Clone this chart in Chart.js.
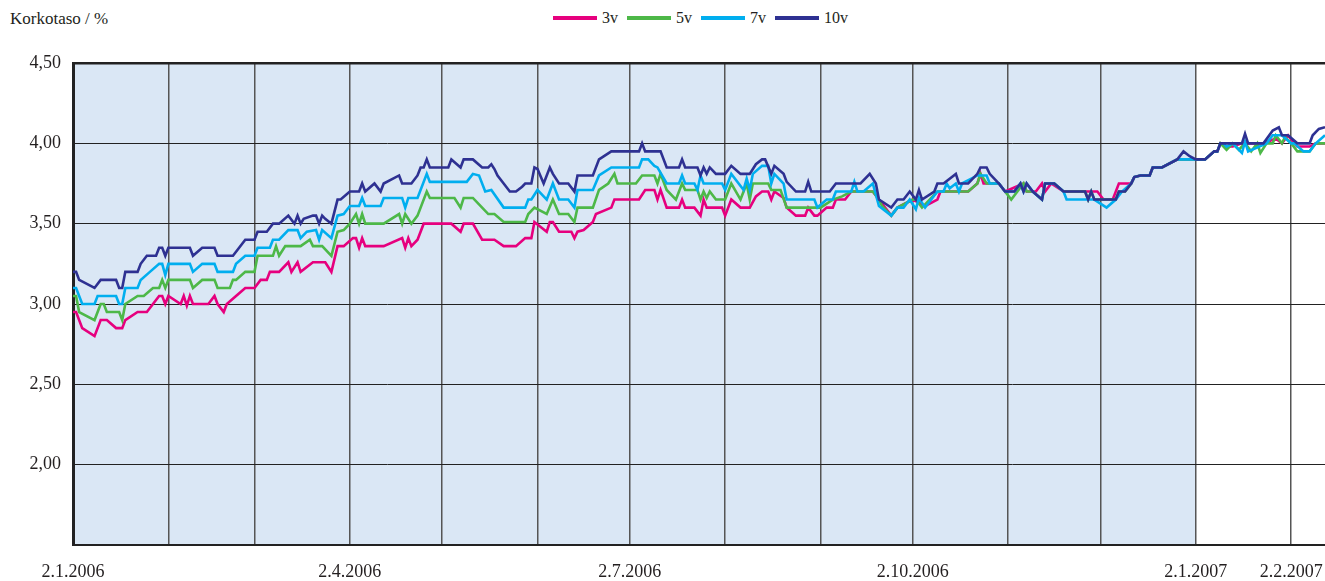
<!DOCTYPE html>
<html>
<head>
<meta charset="utf-8">
<script src="https://cdn.jsdelivr.net/npm/chart.js@4"></script>
<style>
  html, body { margin: 0; padding: 0; background: #fff; }
  #wrap { position: relative; width: 1325px; height: 581px; font-family: "Liberation Serif", Tinos, "Times New Roman", Times, "Noto Serif", "DejaVu Serif", serif; color: #231f20; }
  #title { position: absolute; left: 10px; top: 9px; font-size: 17px; line-height: 20px; }
  #legend { position: absolute; left: 553px; top: 8px; height: 20px; display: flex; align-items: center; font-size: 16px; }
  #legend .item { display: flex; align-items: center; margin-right: 9px; }
  #legend .swatch { display: inline-block; width: 44px; height: 4px; margin-right: 5px; }
  #box { position: absolute; left: 0; top: 40px; width: 1325px; height: 541px; }
</style>
</head>
<body>
<div id="wrap">
  <div id="title">Korkotaso / %</div>
  <div id="legend"></div>
  <div id="box"><canvas id="rates"></canvas></div>
</div>
<script>
// x values are days after 2.1.2006, y values are interest rates in %.
const START = '2.1.2006';

const gridDates = [
  '2.1.2006', '2.2.2006', '2.3.2006', '2.4.2006', '2.5.2006', '2.6.2006', '2.7.2006',
  '2.8.2006', '2.9.2006', '2.10.2006', '2.11.2006', '2.12.2006', '2.1.2007', '2.2.2007',
];
const labelDates = ['2.1.2006', '2.4.2006', '2.7.2006', '2.10.2006', '2.1.2007', '2.2.2007'];
const shadedUntil = '2.1.2007';
const lastDay = 407;

const seriesNames = ['3v', '5v', '7v', '10v'];
const seriesColors = ['#e6007e', '#4db848', '#00aeef', '#2e3192'];

const days3v = [0,1,3,7,9,11,14,16,17,21,24,26,28,29,30,31,35,36,37,38,39,44,46,47,49,50,53,56,59,61,63,64,67,70,71,73,74,78,82,84,86,88,91,92,93,94,95,101,107,108,109,110,112,114,123,126,127,130,133,137,140,144,147,149,150,154,155,156,158,162,163,164,166,169,170,175,176,184,186,189,190,191,193,197,198,199,202,204,205,206,211,212,214,217,220,222,224,226,227,228,231,232,235,238,239,241,242,245,247,248,251,253,260,262,266,268,273,277,281,282,291,294,295,296,301,303,309,310,313,315,316,318,322,329,333,335,338,340,344,345,347,350,351,354,359,365,368,371,372,373,375,377,380,387,391,393,395,397,398,402,404,407];
const rate3v = [2.95,2.95,2.85,2.80,2.90,2.90,2.85,2.85,2.90,2.95,2.95,3.00,3.05,3.05,3.00,3.05,3.00,3.05,2.99,3.05,3.00,3.00,3.05,3.00,2.95,3.00,3.05,3.10,3.10,3.15,3.15,3.20,3.20,3.26,3.20,3.26,3.20,3.26,3.26,3.20,3.36,3.36,3.41,3.41,3.35,3.41,3.36,3.36,3.41,3.35,3.41,3.36,3.40,3.50,3.50,3.45,3.50,3.50,3.40,3.40,3.36,3.36,3.41,3.41,3.51,3.45,3.51,3.51,3.45,3.45,3.41,3.45,3.46,3.51,3.56,3.60,3.65,3.65,3.71,3.71,3.65,3.71,3.60,3.60,3.65,3.60,3.60,3.55,3.65,3.60,3.60,3.55,3.65,3.60,3.60,3.67,3.70,3.70,3.65,3.70,3.66,3.60,3.55,3.55,3.60,3.55,3.55,3.60,3.60,3.65,3.65,3.70,3.70,3.65,3.55,3.60,3.65,3.61,3.65,3.70,3.70,3.75,3.81,3.75,3.75,3.70,3.75,3.70,3.70,3.75,3.70,3.75,3.70,3.70,3.70,3.65,3.65,3.75,3.75,3.79,3.80,3.80,3.85,3.85,3.90,3.90,3.90,3.95,3.95,4.00,3.98,3.98,4.00,4.00,4.03,4.00,4.05,4.00,3.98,3.98,4.00,4.00];

const days5v = [0,1,2,7,9,10,11,15,16,17,21,23,26,28,29,30,31,38,39,42,46,47,51,52,53,56,59,60,65,66,67,69,74,77,78,81,84,86,88,90,92,93,94,95,101,106,107,108,110,112,115,116,124,126,127,130,133,135,137,140,147,148,150,154,156,158,161,163,164,169,171,174,176,177,183,185,189,190,191,193,196,198,199,203,204,205,206,207,209,212,214,217,219,220,221,226,227,230,232,243,247,250,253,260,262,263,266,268,273,274,276,281,291,294,295,297,301,303,305,307,309,310,312,315,316,319,322,329,330,331,332,339,340,342,344,345,347,350,351,354,359,365,368,371,372,373,375,377,379,381,383,385,386,388,390,391,393,394,396,398,402,404,407];
const rate5v = [3.05,3.05,2.95,2.90,3.00,3.00,2.95,2.95,2.90,3.00,3.05,3.05,3.10,3.10,3.15,3.10,3.15,3.15,3.10,3.15,3.15,3.10,3.10,3.15,3.15,3.20,3.20,3.30,3.30,3.36,3.30,3.36,3.36,3.40,3.36,3.36,3.30,3.45,3.46,3.50,3.56,3.50,3.56,3.50,3.50,3.56,3.50,3.56,3.50,3.55,3.70,3.66,3.66,3.60,3.66,3.66,3.60,3.56,3.56,3.51,3.51,3.56,3.60,3.56,3.65,3.56,3.56,3.51,3.60,3.60,3.71,3.75,3.81,3.75,3.75,3.80,3.80,3.75,3.81,3.71,3.65,3.75,3.71,3.71,3.65,3.70,3.66,3.70,3.65,3.65,3.75,3.65,3.75,3.65,3.75,3.75,3.71,3.71,3.60,3.60,3.65,3.67,3.70,3.70,3.65,3.61,3.55,3.60,3.65,3.65,3.60,3.70,3.70,3.75,3.81,3.75,3.75,3.70,3.65,3.70,3.75,3.70,3.70,3.65,3.75,3.75,3.70,3.70,3.65,3.70,3.65,3.65,3.70,3.70,3.75,3.79,3.80,3.80,3.85,3.85,3.90,3.90,3.90,3.95,3.95,4.00,3.96,4.00,3.96,4.00,3.95,4.00,3.94,4.00,4.00,4.05,4.00,4.04,4.00,3.95,3.95,4.00,4.00];

const days7v = [0,1,3,7,8,14,15,16,17,21,22,25,28,29,30,31,38,39,42,46,47,52,53,56,59,60,64,65,67,70,73,74,76,79,80,81,84,86,88,90,93,94,95,100,101,107,108,109,112,115,116,128,130,132,134,136,140,147,148,149,151,154,156,158,161,163,164,169,171,175,184,185,187,189,190,193,197,198,199,202,203,204,205,211,212,214,218,219,220,221,224,226,227,228,231,232,241,242,245,247,248,253,254,255,257,260,262,266,268,270,272,274,275,277,281,283,284,285,287,288,289,294,297,298,301,303,306,308,309,310,312,315,316,319,322,323,329,332,336,339,341,344,345,347,350,351,354,359,365,368,371,372,373,374,375,377,380,381,382,388,390,393,396,397,400,402,404,407];
const rate7v = [3.10,3.10,3.00,3.00,3.05,3.05,3.00,3.00,3.10,3.10,3.15,3.20,3.25,3.25,3.18,3.25,3.25,3.20,3.25,3.25,3.20,3.20,3.25,3.30,3.30,3.35,3.35,3.40,3.40,3.46,3.46,3.41,3.45,3.46,3.40,3.46,3.41,3.55,3.56,3.61,3.61,3.66,3.61,3.61,3.66,3.66,3.60,3.66,3.66,3.81,3.76,3.76,3.81,3.80,3.70,3.71,3.60,3.60,3.65,3.65,3.71,3.65,3.75,3.65,3.65,3.60,3.71,3.71,3.80,3.85,3.85,3.90,3.90,3.86,3.85,3.75,3.75,3.80,3.75,3.75,3.71,3.80,3.75,3.75,3.71,3.81,3.71,3.78,3.71,3.81,3.86,3.86,3.75,3.81,3.75,3.65,3.65,3.60,3.65,3.65,3.70,3.70,3.76,3.70,3.70,3.75,3.61,3.55,3.60,3.60,3.65,3.59,3.66,3.60,3.70,3.70,3.75,3.72,3.75,3.70,3.75,3.80,3.80,3.75,3.75,3.70,3.70,3.75,3.70,3.75,3.70,3.65,3.75,3.75,3.70,3.65,3.65,3.65,3.60,3.65,3.70,3.75,3.79,3.80,3.80,3.85,3.85,3.90,3.90,3.90,3.95,3.95,4.00,4.00,3.98,4.00,3.94,4.01,3.95,4.00,4.05,4.05,4.00,4.00,3.95,3.95,4.00,4.05];

const days10v = [0,1,2,7,9,14,15,16,17,21,22,24,27,28,29,30,31,38,39,42,46,47,52,54,56,59,60,63,65,67,70,72,73,74,75,78,79,80,81,82,84,86,87,90,93,94,95,98,100,101,106,107,110,112,113,114,115,116,122,123,126,127,130,133,135,136,137,138,140,142,144,146,147,149,150,151,153,155,156,158,161,163,164,169,171,175,184,185,186,191,193,197,198,199,203,204,205,206,207,209,212,214,217,220,222,224,225,227,228,231,232,235,238,239,240,246,248,256,259,261,262,266,268,270,272,274,275,276,280,281,283,287,288,291,294,295,297,298,301,303,306,308,309,310,312,315,316,319,322,329,330,331,332,339,340,342,344,345,347,350,351,354,359,361,363,365,368,371,372,373,380,381,382,387,390,392,393,395,398,402,403,405,407];
const rate10v = [3.20,3.20,3.15,3.10,3.15,3.15,3.10,3.10,3.20,3.20,3.25,3.30,3.30,3.35,3.35,3.30,3.35,3.35,3.30,3.35,3.35,3.30,3.30,3.35,3.40,3.40,3.45,3.45,3.50,3.50,3.55,3.50,3.55,3.50,3.53,3.55,3.55,3.50,3.55,3.53,3.50,3.65,3.65,3.70,3.70,3.75,3.70,3.75,3.70,3.75,3.80,3.75,3.75,3.80,3.85,3.85,3.90,3.85,3.85,3.90,3.85,3.90,3.90,3.85,3.85,3.87,3.84,3.80,3.75,3.70,3.70,3.73,3.75,3.75,3.85,3.84,3.75,3.85,3.81,3.75,3.75,3.70,3.80,3.80,3.90,3.95,3.95,4.00,3.95,3.95,3.85,3.85,3.90,3.85,3.85,3.80,3.85,3.81,3.85,3.81,3.81,3.86,3.81,3.81,3.87,3.90,3.90,3.81,3.86,3.81,3.76,3.70,3.70,3.76,3.70,3.70,3.75,3.75,3.81,3.75,3.65,3.60,3.65,3.65,3.70,3.65,3.71,3.65,3.70,3.75,3.75,3.81,3.75,3.75,3.81,3.85,3.85,3.81,3.75,3.70,3.70,3.75,3.70,3.75,3.70,3.65,3.75,3.75,3.70,3.70,3.65,3.70,3.65,3.65,3.70,3.70,3.75,3.79,3.80,3.80,3.85,3.85,3.90,3.95,3.92,3.90,3.90,3.95,3.95,4.00,4.00,4.06,4.00,4.00,4.08,4.10,4.05,4.05,4.00,4.00,4.05,4.09,4.10];

const seriesDays = [days3v, days5v, days7v, days10v];
const seriesRates = [rate3v, rate5v, rate7v, rate10v];

function dayOf(str) {
  const [d, m, y] = str.split('.').map(Number);
  const [d0, m0, y0] = START.split('.').map(Number);
  return Math.round((Date.UTC(y, m - 1, d) - Date.UTC(y0, m0 - 1, d0)) / 86400000);
}

const gridDays = gridDates.map(dayOf);
const labelByDay = {};
labelDates.forEach((s) => { labelByDay[dayOf(s)] = s; });

// legend as plain html
const legendEl = document.getElementById('legend');
seriesNames.forEach((name, i) => {
  const item = document.createElement('span');
  item.className = 'item';
  item.innerHTML = `<span class="swatch" style="background:${seriesColors[i]}"></span>${name}`;
  legendEl.appendChild(item);
});

// light blue fill behind 2006, white after
const shadePlugin = {
  id: 'shade',
  beforeDraw(chart) {
    const { ctx, chartArea, scales } = chart;
    const xEnd = scales.x.getPixelForValue(dayOf(shadedUntil));
    ctx.save();
    ctx.fillStyle = '#dae7f5';
    ctx.fillRect(chartArea.left, chartArea.top, xEnd - chartArea.left, chartArea.bottom - chartArea.top);
    ctx.restore();
  },
};

const datasets = seriesNames.map((name, i) => ({
  label: name,
  data: seriesDays[i].map((d, j) => ({ x: d, y: seriesRates[i][j] })),
  borderColor: seriesColors[i],
  backgroundColor: seriesColors[i],
  borderWidth: 2.6,
  pointRadius: 0,
  tension: 0,
  order: seriesNames.length - i,
}));

const tickFont = { family: '"Liberation Serif", Tinos, "Times New Roman", Times, "Noto Serif", "DejaVu Serif", serif', size: 18 };

new Chart(document.getElementById('rates'), {
  type: 'line',
  data: { datasets },
  plugins: [shadePlugin],
  options: {
    responsive: true,
    maintainAspectRatio: false,
    animation: false,
    layout: { padding: { top: 23, right: 0, bottom: 0, left: 0 } },
    plugins: {
      legend: { display: false },
      tooltip: { enabled: false },
    },
    scales: {
      x: {
        type: 'linear',
        min: 0,
        max: lastDay,
        afterBuildTicks: (scale) => { scale.ticks = gridDays.map((v) => ({ value: v })); },
        afterFit: (scale) => {
          scale.height = 36;
          scale.paddingLeft = 0;
          scale.paddingRight = 0;
        },
        ticks: {
          autoSkip: false,
          maxRotation: 0,
          padding: 16,
          color: '#231f20',
          font: tickFont,
          callback: (value) => labelByDay[value] || '',
        },
        grid: { color: '#555', lineWidth: 1.5, drawTicks: false },
        border: { display: true, color: '#222', width: 2 },
      },
      y: {
        min: 1.5,
        max: 4.5,
        afterFit: (scale) => { scale.width = 73; },
        ticks: {
          stepSize: 0.5,
          padding: 12,
          color: '#231f20',
          font: tickFont,
          callback: (value) => (value === 1.5 ? '' : value.toFixed(2).replace('.', ',')),
        },
        grid: {
          color: '#222',
          lineWidth: (ctx) => (ctx.tick && ctx.tick.value === 4.5 ? 2.5 : 1),
          drawTicks: false,
        },
        border: { display: true, color: '#222', width: 3 },
      },
    },
  },
});
</script>
</body>
</html>
